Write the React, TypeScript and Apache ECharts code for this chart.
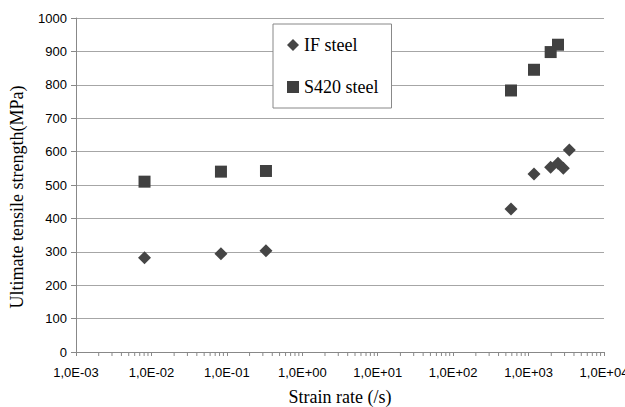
import React, { useEffect, useRef } from "react";
import * as echarts from "echarts";

const ifRates = [0.0081, 0.0835, 0.33, 585, 1180, 1960, 2455, 2890, 3470];
const ifStrength = [282, 294, 303, 428, 533, 553, 565, 550, 605];
const s420Rates = [0.0081, 0.0835, 0.33, 585, 1180, 1963, 2455];
const s420Strength = [510, 540, 542, 783, 845, 898, 920];
const decades = [-3, -2, -1, 0, 1, 2, 3];
const minorMultipliers = [2, 3, 4, 5, 6, 7, 8, 9];

const minorTickValues: number[] = [];
decades.forEach((d) => minorMultipliers.forEach((k) => minorTickValues.push(k * Math.pow(10, d))));

function fmtExp(v: number): string {
  const e = Math.round(Math.log10(v));
  const sign = e < 0 ? "-" : "+";
  const a = Math.abs(e);
  return "1,0E" + sign + (a < 10 ? "0" + a : "" + a);
}

export default function App() {
  const ref = useRef<HTMLDivElement>(null);
  useEffect(() => {
    document.body.style.margin = "0";
    if (!ref.current) return;
    const chart = echarts.init(ref.current, null, { renderer: "svg" });
    const serif = "'Liberation Serif', 'Times New Roman', serif";
    const sans = "'Liberation Sans', Arial, sans-serif";
    chart.setOption({
      animation: false,
      backgroundColor: "#ffffff",
      grid: { left: 76, right: 21, top: 18, bottom: 55, containLabel: false, outerBoundsMode: "none" },
      legend: {
        orient: "vertical",
        left: 273,
        top: 24,
        padding: [12, 13, 12, 14],
        itemGap: 24,
        itemWidth: 12,
        itemHeight: 12,
        borderColor: "#888888",
        borderWidth: 1,
        backgroundColor: "#ffffff",
        textStyle: { fontFamily: serif, fontSize: 18, color: "#000" },
        data: [
          { name: "IF steel", icon: "diamond" },
          { name: "S420 steel", icon: "rect" },
        ],
      },
      xAxis: {
        type: "log",
        logBase: 10,
        min: 0.001,
        max: 10000,
        name: "Strain rate (/s)",
        nameLocation: "middle",
        nameGap: 36,
        nameTextStyle: { fontFamily: serif, fontSize: 18, color: "#000" },
        axisLine: { show: true, onZero: false, lineStyle: { color: "#888888", width: 1 } },
        axisTick: { show: true, inside: false, length: 4, lineStyle: { color: "#888888" } },
        axisLabel: {
          fontFamily: sans,
          fontSize: 13,
          color: "#000",
          margin: 14,
          formatter: (v: number) => fmtExp(v),
          showMaxLabel: true,
          showMinLabel: true,
        },
        splitLine: { show: false },
      },
      yAxis: {
        type: "value",
        min: 0,
        max: 1000,
        interval: 100,
        name: "Ultimate tensile strength(MPa)",
        nameLocation: "middle",
        nameGap: 50,
        nameTextStyle: { fontFamily: serif, fontSize: 18, color: "#000", padding: [0, 24, 0, 0] },
        axisLine: { show: true, lineStyle: { color: "#888888", width: 1 } },
        axisTick: { show: true, inside: false, length: 5, lineStyle: { color: "#888888" } },
        axisLabel: { fontFamily: sans, fontSize: 13, color: "#000", margin: 9, formatter: (v: number) => String(v) },
        splitLine: { show: true, lineStyle: { color: "#a6a6a6", width: 1 } },
      },
      series: [
        {
          name: "minor",
          type: "custom",
          silent: true,
          clip: false,
          z: 1,
          data: minorTickValues.map((v) => [v, 0]),
          renderItem: (params: any, api: any) => {
            const p = api.coord([api.value(0), 0]);
            return {
              type: "line",
              shape: { x1: p[0], y1: p[1], x2: p[0], y2: p[1] + 4 },
              style: { stroke: "#888888", lineWidth: 1 },
            };
          },
        },
        {
          name: "IF steel",
          type: "scatter",
          symbol: "diamond",
          symbolSize: 13,
          itemStyle: { color: "#454545", opacity: 1 },
          data: ifRates.map((r, i) => [r, ifStrength[i]]),
          z: 3,
        },
        {
          name: "S420 steel",
          type: "scatter",
          symbol: "rect",
          symbolSize: 12,
          itemStyle: { color: "#404040", opacity: 1 },
          data: s420Rates.map((r, i) => [r, s420Strength[i]]),
          z: 3,
        },
      ],
    });
    return () => chart.dispose();
  }, []);
  return <div ref={ref} style={{ width: 625, height: 407 }} />;
}
